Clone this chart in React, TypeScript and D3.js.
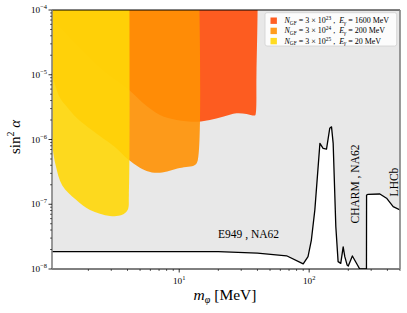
import React from "react";
import * as d3 from "d3";

// exclusion boundary (E949, NA62, CHARM, LHCb)
const exclMass = [1.0, 20, 40, 67, 90, 98, 104, 110.6, 121, 128, 136, 144, 148.6, 153, 160.4, 167, 175, 182.7, 188, 196, 200, 215, 245, 276, 276.5, 284, 350, 394, 443, 500, 520];
const exclSin2 = [1.85e-8, 1.85e-8, 1.76e-8, 1.6e-8, 1.2e-8, 1.55e-8, 2.8e-8, 8.2e-8, 8.7e-7, 7.3e-7, 7.1e-7, 1.49e-6, 1.57e-6, 8.7e-7, 4.5e-8, 1.3e-8, 1.22e-8, 2.2e-8, 1.55e-8, 1.15e-8, 1.11e-8, 1.59e-8, 1.0e-8, 1.0e-8, 1.39e-7, 1.42e-7, 1.44e-7, 1.24e-7, 9.2e-8, 8.15e-8, 7.8e-8];

// sensitivity regions (lower boundary, closed at the top)
const redMass = [0.95, 1.05, 1.72, 2.68, 4.12, 5.29, 7.1, 9.55, 13.9, 17.2, 21.7, 27.6, 33, 38.2, 38.8, 39.3, 40.1, 40.2];
const redSin2 = [8e-5, 7e-5, 2.6e-5, 1.1e-5, 5.8e-6, 3.62e-6, 2.39e-6, 2.0e-6, 1.88e-6, 2.0e-6, 2.25e-6, 2.54e-6, 2.48e-6, 2.35e-6, 2.5e-6, 1e-5, 1e-4, 1e-3];

const orangeMass = [0.95, 1.05, 1.21, 1.37, 1.63, 2.45, 3.2, 4.1, 5.61, 7.1, 10.1, 13.2, 13.9, 14.0];
const orangeSin2 = [1.7e-5, 9.9e-6, 4.37e-6, 3.18e-6, 2.15e-6, 1.13e-6, 7.66e-7, 4.82e-7, 3.27e-7, 3.07e-7, 3.63e-7, 4.04e-7, 4.8e-7, 1e-3];

const yellowMass = [0.95, 1.01, 1.06, 1.12, 1.26, 1.6, 2.06, 2.93, 3.6, 4.01, 4.1, 4.12];
const yellowSin2 = [4e-6, 1.6e-6, 7.5e-7, 4.0e-7, 1.95e-7, 1.18e-7, 8.15e-8, 6.6e-8, 6.8e-8, 8.15e-8, 1.39e-7, 1e-3];

const legendExps = ["23", "24", "25"];
const legendEnergies = ["1600", "200", "20"];

const xMajor = [10, 100];
const yMajor = [1e-8, 1e-7, 1e-6, 1e-5, 1e-4];

const regionColors = ["#ff4c0a", "#ff9103", "#ffd708"];
const FONT = "'Liberation Serif', 'DejaVu Serif', serif";

const W = 407;
const H = 313;
const L = 52, R = 400, T = 10, B = 269;

export default function App() {
  const x = d3.scaleLog().domain([1.05, 500]).range([L, R]);
  const y = d3.scaleLog().domain([1e-8, 1e-4]).range([B, T]);

  const zip = (ms: number[], ss: number[]) => ms.map((m, i) => [m, ss[i]] as [number, number]);

  const grayArea = d3
    .area<[number, number]>()
    .x((d) => x(d[0]))
    .y0(y(1e-3))
    .y1((d) => y(d[1]))(zip(exclMass, exclSin2));

  const exclLine = d3
    .line<[number, number]>()
    .x((d) => x(d[0]))
    .y((d) => y(d[1]))(zip(exclMass, exclSin2));

  const regionPath = (ms: number[], ss: number[]) => {
    const pts = zip(ms, ss);
    pts.unshift([ms[0] * 0.9, 1e-3]);
    const l = d3
      .line<[number, number]>()
      .x((d) => x(d[0]))
      .y((d) => y(d[1]))
      .curve(d3.curveCatmullRom.alpha(0.5));
    return l(pts) + "Z";
  };

  const regions = [
    regionPath(redMass, redSin2),
    regionPath(orangeMass, orangeSin2),
    regionPath(yellowMass, yellowSin2),
  ];

  const xMinor: number[] = [];
  [1, 10, 100].forEach((dec) => {
    for (let k = 2; k <= 9; k++) {
      const v = dec * k;
      if (v >= 1.05 && v <= 500) xMinor.push(v);
    }
  });
  const yMinor: number[] = [];
  [1e-8, 1e-7, 1e-6, 1e-5].forEach((dec) => {
    for (let k = 2; k <= 9; k++) yMinor.push(dec * k);
  });

  const tickFs = 9.2;

  return (
    <svg
      width={W}
      height={H}
      style={{ position: "absolute", left: 0, top: 0, background: "#fff" }}
      fontFamily={FONT}
    >
      <defs>
        <clipPath id="plot">
          <rect x={L} y={T} width={R - L} height={B - T} />
        </clipPath>
      </defs>
      <rect x={L} y={T} width={R - L} height={B - T} fill="#fff" />
      <g clipPath="url(#plot)">
        <path d={grayArea ?? ""} fill="#e8e8e8" />
        {regions.map((d, i) => (
          <path key={i} d={d} fill={regionColors[i]} fillOpacity={0.9} />
        ))}
        <path d={exclLine ?? ""} fill="none" stroke="#000" strokeWidth={1.3} strokeLinejoin="round" />
      </g>

      {/* spines */}
      <line x1={L} x2={R} y1={T} y2={T} stroke="#000" strokeWidth={1} />
      <line x1={L} x2={R} y1={B} y2={B} stroke="#000" strokeWidth={1} />
      <line x1={L} x2={L} y1={T} y2={B} stroke="#808080" strokeWidth={1.6} />
      <line x1={R} x2={R} y1={T} y2={B} stroke="#808080" strokeWidth={1.6} />

      {/* x ticks */}
      {xMinor.map((v) => (
        <line key={"xm" + v} x1={x(v)} x2={x(v)} y1={B} y2={B + 2} stroke="#000" strokeWidth={0.6} />
      ))}
      {xMajor.map((v) => (
        <g key={"xM" + v}>
          <line x1={x(v)} x2={x(v)} y1={B} y2={B + 3.5} stroke="#000" strokeWidth={0.8} />
          <text x={x(v)} y={B + 15} textAnchor="middle" fontSize={tickFs}>
            10<tspan dy={-3.8} fontSize={tickFs * 0.7}>{Math.round(Math.log10(v))}</tspan>
          </text>
        </g>
      ))}

      {/* y ticks */}
      {yMinor.map((v) => (
        <line key={"ym" + v} x1={L - 2} x2={L} y1={y(v)} y2={y(v)} stroke="#000" strokeWidth={0.6} />
      ))}
      {yMajor.map((v) => (
        <g key={"yM" + v}>
          <line x1={L - 3.5} x2={L} y1={y(v)} y2={y(v)} stroke="#000" strokeWidth={0.8} />
          <text x={L - 5} y={y(v) + 3} textAnchor="end" fontSize={tickFs}>
            10<tspan dy={-3.8} fontSize={tickFs * 0.7}>{"\u2212" + Math.round(-Math.log10(v))}</tspan>
          </text>
        </g>
      ))}

      {/* axis labels */}
      <text x={225} y={300} textAnchor="middle" fontSize={15.5} style={{ whiteSpace: "pre" }}>
        <tspan fontStyle="italic">m</tspan>
        <tspan fontSize={10} dy={3} fontStyle="italic">φ</tspan>
        <tspan dy={-3}>{" [MeV]"}</tspan>
      </text>
      <text transform="translate(20,137) rotate(-90)" textAnchor="middle" fontSize={15} style={{ whiteSpace: "pre" }}>
        sin<tspan dy={-6} fontSize={10}>2</tspan>
        <tspan dy={6} fontStyle="italic">{" α"}</tspan>
      </text>

      {/* annotations */}
      <text x={218} y={238} fontSize={11.5}>E949 , NA62</text>
      <text transform="translate(359,184) rotate(-90)" textAnchor="middle" fontSize={11.5}>
        CHARM , NA62
      </text>
      <text transform="translate(398,182) rotate(-90)" textAnchor="middle" fontSize={11.5}>
        LHCb
      </text>

      {/* legend */}
      <rect x={265} y={12.7} width={131.7} height={33.3} rx={2} fill="#fff" fillOpacity={0.85} stroke="#d0d0d0" strokeWidth={0.8} />
      {legendExps.map((e, i) => {
        const cy = 20.7 + i * 10.2;
        return (
          <g key={e}>
            <rect x={270.5} y={cy - 3.2} width={6.4} height={6.4} fill={regionColors[i]} fillOpacity={0.9} />
            <text x={284.5} y={cy + 2.5} fontSize={8} style={{ whiteSpace: "pre" }}>
              <tspan fontStyle="italic">N</tspan>
              <tspan fontSize={5.4} dy={1.5}>GF</tspan>
              <tspan dy={-1.5}>{" = 3 × 10"}</tspan>
              <tspan fontSize={5.4} dy={-3}>{e}</tspan>
              <tspan dy={3}>{" ,  "}</tspan>
              <tspan fontStyle="italic">E</tspan>
              <tspan fontSize={5.4} dy={1.5} fontStyle="italic">γ</tspan>
              <tspan dy={-1.5}>{" = " + legendEnergies[i] + " MeV"}</tspan>
            </text>
          </g>
        );
      })}
    </svg>
  );
}
